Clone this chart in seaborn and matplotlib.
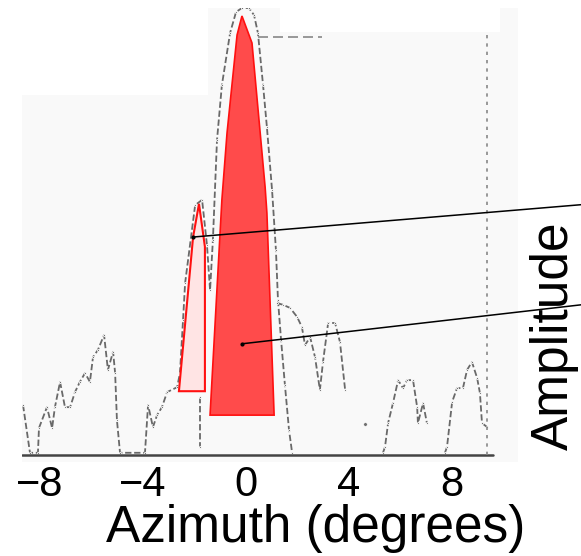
import matplotlib
matplotlib.use("Agg")
import matplotlib.pyplot as plt
import seaborn as sns
import pandas as pd

# ---------------- data (azimuth in degrees, amplitude normalised) ----------------
main_az = [-8.66, -8.39, -8.08, -8.04, -7.73, -7.53, -7.42, -7.22, -7.03, -6.83, -6.64,
           -6.45, -6.25, -6.06, -5.94, -5.75, -5.51, -5.36, -5.16, -5.08, -5.01, -4.89,
           -3.92, -3.80, -3.61, -3.45, -3.26, -3.06, -2.67, -2.56, -2.44, -2.36, -1.97,
           -1.70, -1.51, -1.39, -1.28, -1.12, -0.93, -0.61, -0.38, -0.15, 0.12, 0.32,
           0.47, 0.67, 0.82, 1.02, 1.17, 1.25, 1.37, 1.52, 1.68, 1.80]
main_amp = [0.113, 0.005, 0.005, 0.061, 0.108, 0.061, 0.108, 0.165, 0.108, 0.108, 0.142,
            0.165, 0.185, 0.165, 0.221, 0.237, 0.271, 0.192, 0.233, 0.185, 0.079, 0.005,
            0.005, 0.113, 0.063, 0.090, 0.108, 0.142, 0.153, 0.185, 0.305, 0.388, 0.564,
            0.576, 0.474, 0.372, 0.485, 0.711, 0.835, 0.953, 1.000, 1.009, 1.009, 0.993,
            0.953, 0.835, 0.740, 0.598, 0.463, 0.350, 0.260, 0.158, 0.056, 0.005]

side_az = [1.21, 1.45, 1.72, 1.99, 2.18, 2.30, 2.50, 2.69, 2.88, 3.00, 3.20, 3.47, 3.66, 3.86]
side_amp = [0.343, 0.339, 0.332, 0.312, 0.289, 0.248, 0.266, 0.221, 0.147, 0.210, 0.298,
            0.298, 0.255, 0.147]

lobe3_az = [5.33, 5.41, 5.53, 5.72, 5.92, 6.11, 6.27, 6.50, 6.66, 6.69, 6.89, 7.04]
lobe3_amp = [0.005, 0.018, 0.072, 0.117, 0.169, 0.151, 0.169, 0.169, 0.108, 0.072, 0.117, 0.072]

lobe4_az = [7.74, 7.82, 8.02, 8.21, 8.44, 8.60, 8.79, 8.99, 9.10, 9.18, 9.38]
lobe4_amp = [0.005, 0.018, 0.120, 0.151, 0.151, 0.192, 0.210, 0.174, 0.140, 0.072, 0.063]

null_az = [-1.78, -1.78]
null_amp = [0.131, 0.018]

dot_az = [4.63]
dot_amp = [0.070]

baseline_az = [-8.70, 9.60]
baseline_amp = [0.0, 0.0]

frame_right_az = [9.38, 9.38]
frame_right_amp = [0.0, 0.953]
frame_top_az = [0.47, 2.96]
frame_top_amp = [0.944, 0.944]

# scanned-sheet background (step outline)
sheet_az = [-8.70, -1.47, 1.33, 9.88, 10.58]
sheet_top = [0.813, 1.009, 0.955, 1.009, 1.009]

# highlighted beams
beam_main_az = [-0.15, -0.34, -0.73, -0.93, -1.39, 1.10, 0.82, 0.75, 0.24]
beam_main_amp = [0.991, 0.948, 0.727, 0.576, 0.090, 0.090, 0.546, 0.605, 0.930]
beam_side_az = [-1.82, -2.05, -2.60, -1.59, -1.59]
beam_side_amp = [0.567, 0.492, 0.144, 0.144, 0.470]

# pointer lines toward the Amplitude label
pointer1_az = [-2.05, 13.03]
pointer1_amp = [0.492, 0.565]
pointer2_az = [-0.15, 13.03]
pointer2_amp = [0.251, 0.339]

tick_vals = [-8, -4, 0, 4, 8]
tick_labels = ["\u22128", "\u22124", "0", "4", "8"]
x_label = "Azimuth (degrees)"
y_label = "Amplitude"

# ---------------- drawing ----------------
sns.set_theme(style="white")
plt.rcParams["font.family"] = ["Liberation Sans", "DejaVu Sans"]

fig = plt.figure(figsize=(5.81, 5.56), dpi=100)
ax = fig.add_axes([22 / 581, 1 - 462 / 556, 496 / 581, 454 / 556])
ax.set_xlim(-8.70, 10.58)
ax.set_ylim(-0.0158, 1.009)
ax.set_facecolor("white")
for s in ax.spines.values():
    s.set_visible(False)

ax.fill_between(sheet_az, -0.0158, sheet_top, step="post", color="#f9f9f9", lw=0, zorder=0)

trace_kw = dict(color="#505050", lw=1.3, alpha=0.85, linestyle=(0, (3.5, 1.5)),
                marker=".", markersize=3, sort=False, estimator=None, ax=ax, legend=False)
for xs, ys in [(main_az, main_amp), (side_az, side_amp), (lobe3_az, lobe3_amp),
               (lobe4_az, lobe4_amp), (null_az, null_amp)]:
    sns.lineplot(x=xs, y=ys, **trace_kw)
sns.scatterplot(x=dot_az, y=dot_amp, color="#707070", s=6, ax=ax, legend=False)

sns.lineplot(x=baseline_az, y=baseline_amp, color="#444444", lw=1.8, sort=False,
             estimator=None, ax=ax)
sns.lineplot(x=frame_right_az, y=frame_right_amp, color="#888888", lw=1.2,
             linestyle=(0, (2, 3)), sort=False, estimator=None, ax=ax)
sns.lineplot(x=frame_top_az, y=frame_top_amp, color="#888888", lw=1.2,
             linestyle=(0, (6, 3)), sort=False, estimator=None, ax=ax)

ax.fill(beam_side_az, beam_side_amp, facecolor="#ffe4e4", edgecolor="#ff1010", lw=1.5, zorder=3)
ax.fill(beam_main_az, beam_main_amp, facecolor="#ff4b4b", edgecolor="#ff1010", lw=1.2, zorder=3)

for xs, ys in [(pointer1_az, pointer1_amp), (pointer2_az, pointer2_amp)]:
    ax.plot(xs, ys, color="black", lw=1.1, zorder=4, clip_on=False)
    ax.plot(xs[:1], ys[:1], "o", color="black", ms=2, zorder=4, clip_on=False)

ax.set_xticks(tick_vals)
ax.set_xticklabels(tick_labels)
ax.set_yticks([])
ax.tick_params(axis="x", length=0, pad=2, labelsize=30, colors="black")

ax.set_xlabel(x_label, fontsize=37, color="black")
ax.xaxis.set_label_coords(0.591, -0.092)
ax.yaxis.set_label_position("right")
ax.set_ylabel(y_label, fontsize=37, color="black")
ax.yaxis.set_label_coords(1.024, 0.2775)

fig.savefig("out.png", dpi=100)
